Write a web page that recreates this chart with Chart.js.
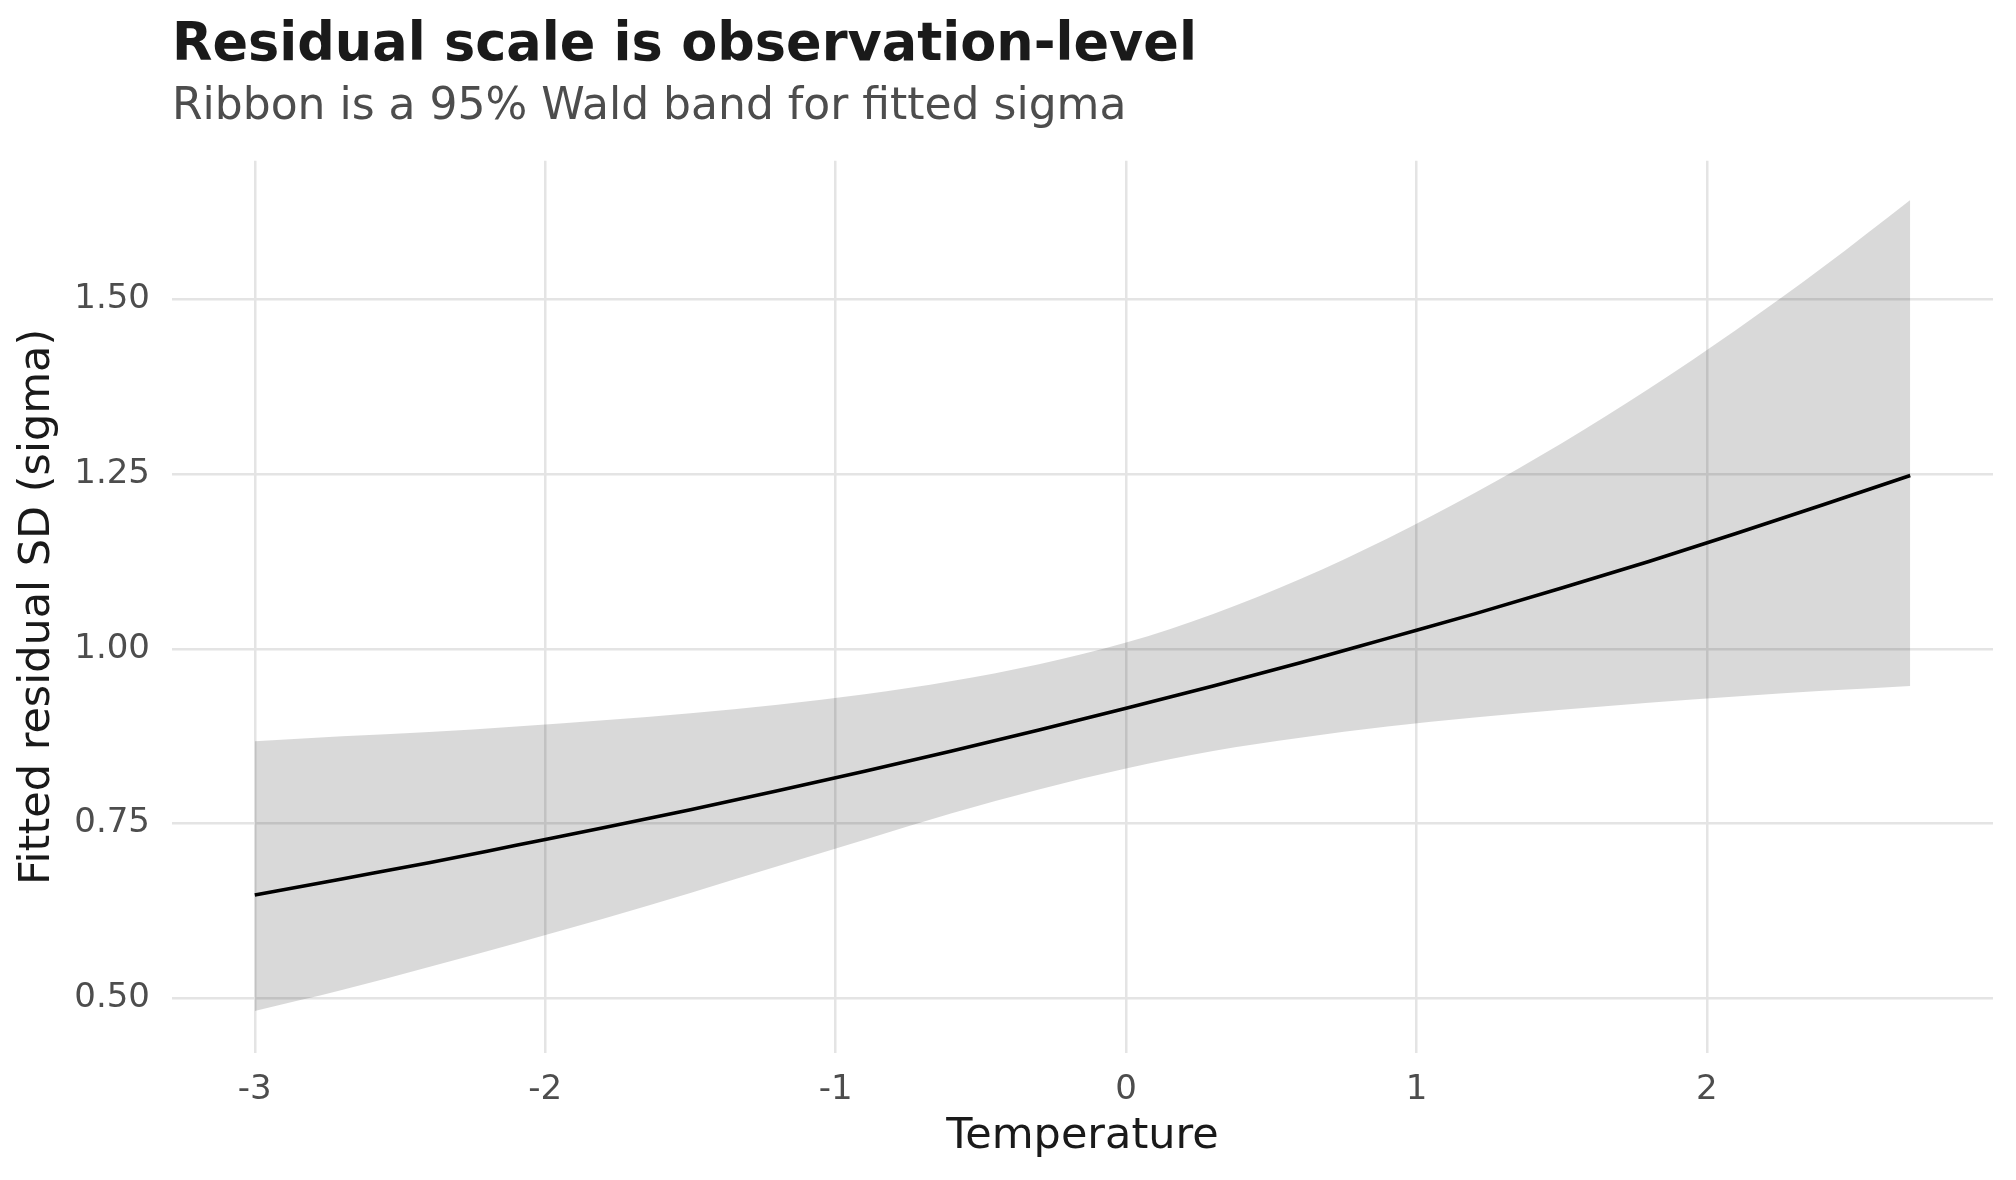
<!DOCTYPE html>
<html>
<head>
<meta charset="utf-8">
<script src="https://cdn.jsdelivr.net/npm/chart.js@4"></script>
<style>
  body { margin: 0; background: #fff; }
  #wrap { width: 2016px; height: 1180px; }
</style>
</head>
<body>
<div id="wrap"><canvas id="myChart" width="2016" height="1180"></canvas></div>
<script>
// temperature grid and fitted sigma with its 95% Wald band
const temps = [-3, -2.7, -2.4, -2.1, -1.8, -1.5, -1.2, -0.9, -0.6, -0.3,
  0, 0.3, 0.6, 0.9, 1.2, 1.5, 1.8, 2.1, 2.4, 2.7];
const sigmaFit = [0.648, 0.671, 0.694, 0.719, 0.744, 0.770, 0.797, 0.825, 0.854, 0.884,
  0.915, 0.947, 0.980, 1.015, 1.050, 1.087, 1.125, 1.165, 1.206, 1.248];
const sigmaLower = [0.482, 0.512, 0.545, 0.579, 0.614, 0.651, 0.689, 0.727, 0.765, 0.799,
  0.829, 0.854, 0.873, 0.889, 0.902, 0.913, 0.923, 0.932, 0.940, 0.947];
const sigmaUpper = [0.868, 0.875, 0.881, 0.889, 0.898, 0.908, 0.920, 0.935, 0.954, 0.978,
  1.009, 1.050, 1.100, 1.158, 1.223, 1.294, 1.372, 1.456, 1.546, 1.642];

const xTicks = [-3, -2, -1, 0, 1, 2];
const yTicks = [0.5, 0.75, 1.0, 1.25, 1.5];

const toPoints = (ys) => temps.map((t, i) => ({ x: t, y: ys[i] }));

Chart.defaults.font.family = "'DejaVu Sans', sans-serif";

const ctx = document.getElementById('myChart');

new Chart(ctx, {
  type: 'line',
  data: {
    datasets: [
      {
        label: 'sigma',
        data: toPoints(sigmaFit),
        borderColor: '#000000',
        borderWidth: 3.6,
        pointRadius: 0,
        cubicInterpolationMode: 'monotone',
        fill: false,
      },
      {
        label: 'lower',
        data: toPoints(sigmaLower),
        borderColor: 'transparent',
        borderWidth: 0,
        pointRadius: 0,
        cubicInterpolationMode: 'monotone',
        fill: false,
      },
      {
        label: 'upper',
        data: toPoints(sigmaUpper),
        borderColor: 'transparent',
        borderWidth: 0,
        pointRadius: 0,
        cubicInterpolationMode: 'monotone',
        backgroundColor: 'rgba(0,0,0,0.15)',
        fill: 1, // ribbon down to the lower bound
      },
    ],
  },
  options: {
    responsive: false,
    animation: false,
    devicePixelRatio: 1,
    layout: { padding: { left: 0, right: 23, top: 0, bottom: 0 } },
    plugins: {
      legend: { display: false },
      tooltip: { enabled: false },
      title: {
        display: true,
        text: 'Residual scale is observation-level',
        align: 'start',
        fullSize: false,
        color: '#1a1a1a',
        font: { size: 52.5, weight: 'bold' },
        padding: { top: 15, bottom: 0 },
      },
      subtitle: {
        display: true,
        text: 'Ribbon is a 95% Wald band for fitted sigma',
        align: 'start',
        fullSize: false,
        color: '#4d4d4d',
        font: { size: 44 },
        padding: { top: 3, bottom: 27 },
      },
    },
    scales: {
      x: {
        type: 'linear',
        min: -3.285,
        max: 2.985,
        border: { display: false },
        grid: { color: '#e4e4e4', lineWidth: 2.5, drawTicks: false },
        afterBuildTicks: (scale) => {
          scale.ticks = xTicks.map((v) => ({ value: v }));
        },
        afterFit: (scale) => {
          scale.height = 127;
        },
        ticks: {
          color: '#4d4d4d',
          font: { size: 34 },
          padding: 17,
          callback: (v) => String(v),
        },
        title: {
          display: true,
          text: 'Temperature',
          color: '#1a1a1a',
          font: { size: 43 },
          padding: { top: 0, bottom: 17 },
        },
      },
      y: {
        type: 'linear',
        min: 0.422,
        max: 1.698,
        border: { display: false },
        grid: { color: '#e4e4e4', lineWidth: 2.5, drawTicks: false },
        afterBuildTicks: (scale) => {
          scale.ticks = yTicks.map((v) => ({ value: v }));
        },
        afterFit: (scale) => {
          scale.width = 172;
        },
        ticks: {
          color: '#4d4d4d',
          font: { size: 34 },
          padding: 22,
          callback: (v) => v.toFixed(2),
        },
        title: {
          display: true,
          text: 'Fitted residual SD (sigma)',
          color: '#1a1a1a',
          font: { size: 43 },
          padding: { top: 12, bottom: 0 },
        },
      },
    },
  },
});
</script>
</body>
</html>
